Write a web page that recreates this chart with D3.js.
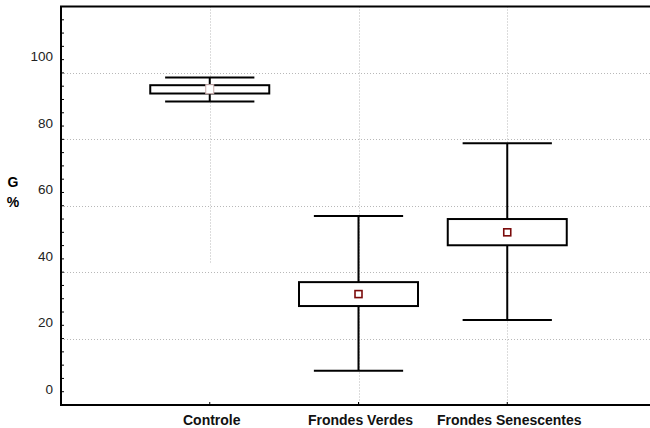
<!DOCTYPE html>
<html>
<head>
<meta charset="utf-8">
<script src="https://cdn.jsdelivr.net/npm/d3@7"></script>
<style>
  body { margin: 0; background: #fff; }
  svg { display: block; font-family: "Liberation Sans", Arial, sans-serif; }
</style>
</head>
<body>
<svg id="chart" width="650" height="428"></svg>
<script>
// --------------------------
// DATA
// --------------------------
const categories = ["Controle", "Frondes Verdes", "Frondes Senescentes"];
const whiskerLow = [91.4, 10.3, 25.6];
const boxLow     = [93.8, 29.8, 48.1];
const meanValue  = [95.1, 33.4, 52.0];
const boxHigh    = [96.3, 37.0, 56.0];
const whiskerHigh = [98.6, 56.9, 78.8];
const yLabelTicks = [0, 20, 40, 60, 80, 100];
const yGridTicks = [20, 40, 60, 80, 100];

const rows = categories.map((c, i) => ({
    name: c,
    lo: whiskerLow[i], q1: boxLow[i], mean: meanValue[i], q3: boxHigh[i], hi: whiskerHigh[i]
}));

// --------------------------
// CHART
// --------------------------
const svg = d3.select("#chart");
const plot = { left: 61, right: 656, top: 6.5, bottom: 405 };

const x = d3.scaleLinear()
    .domain([0, categories.length + 1])
    .range([plot.left, plot.right]);
const y = d3.scaleLinear()
    .domain([0, 120])
    .range([plot.bottom, plot.top]);

const step = x(1) - x(0);
const boxW = step * 0.8;
const capW = step * 0.6;

// Grid
const grid = svg.append("g")
    .attr("stroke", "#b8b8b8")
    .attr("stroke-width", 1)
    .attr("stroke-dasharray", "1,2");

grid.selectAll("line.h")
    .data(yGridTicks)
    .enter().append("line")
    .attr("x1", plot.left).attr("x2", plot.right)
    .attr("y1", d => Math.round(y(d)) + 0.5)
    .attr("y2", d => Math.round(y(d)) + 0.5);

grid.selectAll("line.v")
    .data(rows)
    .enter().append("line")
    .attr("x1", (d, i) => Math.round(x(i + 1)) + 0.5)
    .attr("x2", (d, i) => Math.round(x(i + 1)) + 0.5)
    .attr("y1", plot.top)
    .attr("y2", (d, i) => i === 0 ? y(42.5) : plot.bottom);

// Boxes
const g = svg.append("g")
    .selectAll("g")
    .data(rows)
    .enter().append("g")
    .attr("transform", (d, i) => `translate(${x(i + 1)},0)`);

g.append("line")
    .attr("y1", d => y(d.hi)).attr("y2", d => y(d.q3))
    .attr("stroke", "#000").attr("stroke-width", 2);
g.append("line")
    .attr("y1", d => y(d.q1)).attr("y2", d => y(d.lo))
    .attr("stroke", "#000").attr("stroke-width", 2);

g.append("line")
    .attr("x1", -capW / 2).attr("x2", capW / 2)
    .attr("y1", d => y(d.hi)).attr("y2", d => y(d.hi))
    .attr("stroke", "#000").attr("stroke-width", 2);
g.append("line")
    .attr("x1", -capW / 2).attr("x2", capW / 2)
    .attr("y1", d => y(d.lo)).attr("y2", d => y(d.lo))
    .attr("stroke", "#000").attr("stroke-width", 2);

g.append("rect")
    .attr("x", -boxW / 2)
    .attr("width", boxW)
    .attr("y", d => y(d.q3))
    .attr("height", d => y(d.q1) - y(d.q3))
    .attr("fill", "#fff")
    .attr("stroke", "#000")
    .attr("stroke-width", 2);

// Controle's marker is drawn faded in the original
g.append("rect")
    .attr("x", (d, i) => i === 0 ? -4 : -3.5)
    .attr("y", (d, i) => y(d.mean) - (i === 0 ? 4.5 : 3.5))
    .attr("width", (d, i) => i === 0 ? 8 : 7)
    .attr("height", (d, i) => i === 0 ? 9 : 7)
    .attr("fill", "#fff")
    .attr("stroke", (d, i) => i === 0 ? "#c9aaaa" : "#7a0a0a")
    .attr("stroke-width", (d, i) => i === 0 ? 1 : 1.6);

// Minor ticks on the y axis (inside)
svg.append("g")
    .selectAll("line")
    .data(d3.range(0, 121, 4))
    .enter().append("line")
    .attr("x1", plot.left).attr("x2", plot.left + 3)
    .attr("y1", d => y(d)).attr("y2", d => y(d))
    .attr("stroke", "#000").attr("stroke-width", 1);

// Category ticks on the x axis (inside)
svg.append("g")
    .selectAll("line")
    .data(rows)
    .enter().append("line")
    .attr("x1", (d, i) => x(i + 1)).attr("x2", (d, i) => x(i + 1))
    .attr("y1", plot.bottom).attr("y2", plot.bottom - 3)
    .attr("stroke", "#000").attr("stroke-width", 1);

// Frame
svg.append("rect")
    .attr("x", plot.left).attr("y", plot.top)
    .attr("width", plot.right - plot.left).attr("height", plot.bottom - plot.top)
    .attr("fill", "none")
    .attr("stroke", "#000")
    .attr("stroke-width", 2);

// Y tick labels (sit above their grid lines, as in the original)
svg.append("g")
    .selectAll("text")
    .data(yLabelTicks)
    .enter().append("text")
    .attr("x", 53)
    .attr("y", d => y(d) - 11.5)
    .attr("text-anchor", "end")
    .attr("font-size", 13.5)
    .attr("fill", "#222")
    .text(d => d);

// X labels
svg.append("g")
    .selectAll("text")
    .data(rows)
    .enter().append("text")
    .attr("x", (d, i) => x(i + 1) + 2)
    .attr("y", 425)
    .attr("text-anchor", "middle")
    .attr("font-size", 14)
    .attr("font-weight", "bold")
    .attr("fill", "#111")
    .text(d => d.name);

// Y title
svg.append("text")
    .attr("x", 13).attr("y", 187)
    .attr("text-anchor", "middle")
    .attr("font-size", 14).attr("font-weight", "bold")
    .text("G");
svg.append("text")
    .attr("x", 13).attr("y", 207)
    .attr("text-anchor", "middle")
    .attr("font-size", 14).attr("font-weight", "bold")
    .text("%");
</script>
</body>
</html>
